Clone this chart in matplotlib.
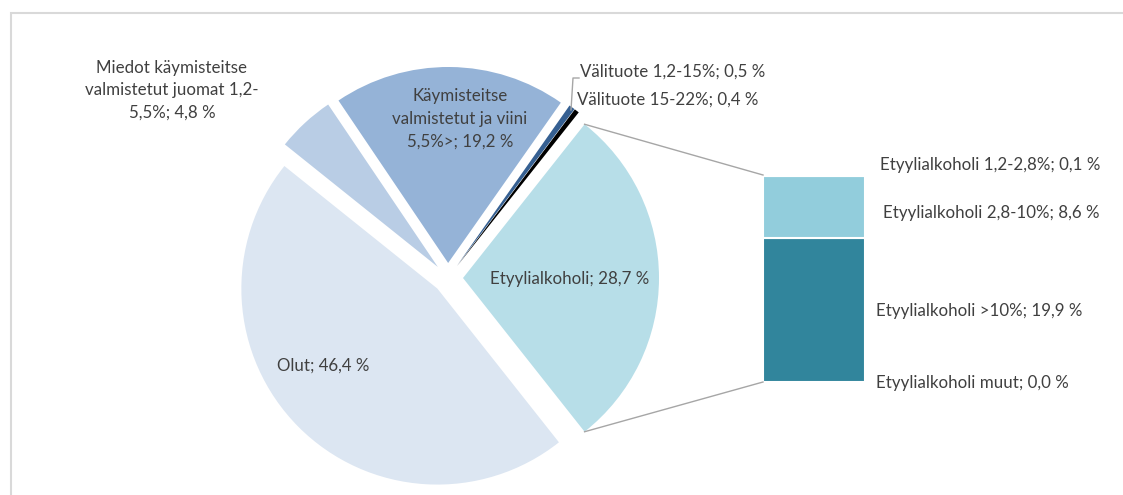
import numpy as np
import matplotlib
matplotlib.use('Agg')
import matplotlib.pyplot as plt
from matplotlib.patches import Rectangle

plt.rcParams['font.family'] = ['Lato', 'DejaVu Sans']

# pie data (starting from the split slice, counter-clockwise)
pie_labels = ['Etyylialkoholi; 28,7 %', 'Välituote 15-22%; 0,4 %', 'Välituote 1,2-15%; 0,5 %',
              'Käymisteitse\nvalmistetut ja viini\n5,5%>; 19,2 %',
              'Miedot käymisteitse\nvalmistetut juomat 1,2-\n5,5%; 4,8 %', 'Olut; 46,4 %']
pie_values = [28.7, 0.4, 0.5, 19.2, 4.8, 46.4]
pie_colors = ['#b7dee8', '#000000', '#366092', '#95b3d7', '#b9cde5', '#dce6f2']

# secondary bar data (top to bottom)
bar_labels = ['Etyylialkoholi 1,2-2,8%; 0,1 %', 'Etyylialkoholi 2,8-10%; 8,6 %',
              'Etyylialkoholi >10%; 19,9 %', 'Etyylialkoholi muut; 0,0 %']
bar_values = [0.1, 8.6, 19.9, 0.0]
bar_colors = ['#b7dee8', '#92cddc', '#31859c', '#31859c']

W, H = 1123, 495
fig = plt.figure(figsize=(W / 100, H / 100), dpi=100)
ax = fig.add_axes([0, 0, 1, 1])

def Y(py):
    return H - py

text_color = '#404040'
fs = 12.2

# outer frame
ax.add_patch(Rectangle((11, -20), 1200, Y(13) + 20, fill=False, edgecolor='#d9d9d9', lw=1.5))

cx, cy, r = 448, Y(278), 196
start = -360 * pie_values[0] / 100 / 2
wedges, _ = ax.pie(pie_values, colors=pie_colors, startangle=start, counterclock=True,
                   radius=r, center=(cx, cy), explode=[15] * len(pie_values),
                   wedgeprops=dict(linewidth=0))

# pie labels
ax.text(570, Y(279), pie_labels[0], ha='center', va='center', fontsize=fs, color=text_color)
ax.text(577, Y(100), pie_labels[1], ha='left', va='center', fontsize=fs, color=text_color)
ax.text(580, Y(72), pie_labels[2], ha='left', va='center', fontsize=fs, color=text_color)
ax.text(460, Y(119), pie_labels[3], ha='center', va='center', fontsize=fs, color=text_color,
        linespacing=1.5)
ax.text(172, Y(90), pie_labels[4], ha='center', va='center', fontsize=fs, color=text_color,
        linespacing=1.5)
ax.text(323, Y(366), pie_labels[5], ha='center', va='center', fontsize=fs, color=text_color)

# leader line for small slice
ax.plot([571, 573, 579], [Y(110), Y(78), Y(78)], color='#a6a6a6', lw=1)

# stacked bar
bx, bw = 814, 102
bar_bottom, bar_height = Y(382), 207
scale = bar_height / sum(bar_values)
b = bar_bottom
for v, c in zip(bar_values[::-1], bar_colors[::-1]):
    ax.bar(bx, v * scale, bottom=b, width=bw, color=c, edgecolor='white', linewidth=1.5)
    b += v * scale

# connector lines from the split slice to the bar
w0 = wedges[0]
for ang, by in [(w0.theta2, bar_bottom + bar_height), (w0.theta1, bar_bottom)]:
    px = w0.center[0] + r * np.cos(np.radians(ang))
    py = w0.center[1] + r * np.sin(np.radians(ang))
    ax.plot([px, bx - bw / 2], [py, by], color='#a6a6a6', lw=1)

# bar labels
bar_label_pos = [(880, 165), (883, 213), (876, 311), (876, 383)]
for lab, (lx, ly) in zip(bar_labels, bar_label_pos):
    ax.text(lx, Y(ly), lab, ha='left', va='center', fontsize=fs, color=text_color)

ax.set_xlim(0, W)
ax.set_ylim(0, H)
ax.set_aspect('equal')
ax.axis('off')
fig.savefig('out.png', dpi=100)
